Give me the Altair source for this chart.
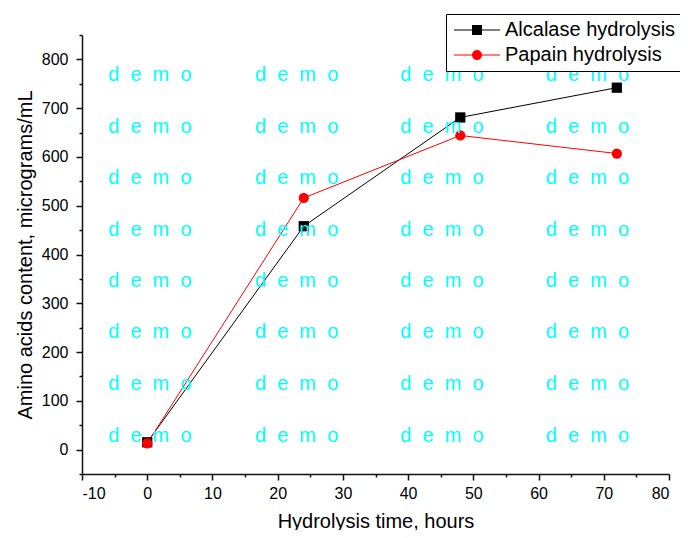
import altair as alt
import pandas as pd

hours = [0, 24, 48, 72]
alcalase = [15, 458, 681, 742]
papain = [13, 516, 644, 607]
series_names = ["Alcalase hydrolysis", "Papain hydrolysis"]
series_colors = ["#000000", "#ff0000"]
plot_shapes = ["square", "circle"]
legend_shapes = [
    "M-1.6,-0.1H2V-1H4V-0.1H7.6V0.1H4V1H2V0.1H-1.6Z",
    "M-1.6,-0.1H2.005A1,1,0,0,1,3.995,-0.1H7.6V0.1H3.995A1,1,0,0,1,2.005,0.1H-1.6Z",
]

x_major = [-10, 0, 10, 20, 30, 40, 50, 60, 70, 80]
x_minor = [-5, 5, 15, 25, 35, 45, 55, 65, 75]
y_major = [0, 100, 200, 300, 400, 500, 600, 700, 800]
y_minor = [-50, 50, 150, 250, 350, 450, 550, 650, 750, 850]

wm_text = "d\u00a0\u00a0e\u00a0\u00a0m\u00a0\u00a0o"
wm_x = [0.4, 22.9, 45.2, 67.5]
wm_y = [768, 661, 557, 450, 346, 241, 135, 28]

rows = []
for name, vals in zip(series_names, [alcalase, papain]):
    for h, v in zip(hours, vals):
        rows.append({"series": name, "grp": name, "hours": h, "value": v})
df = pd.DataFrame(rows)

wm = pd.DataFrame([{"hours": a, "value": b, "t": wm_text} for a in wm_x for b in wm_y])

FONT = "Liberation Sans"
xs = alt.Scale(domain=[-10, 80], nice=False, zero=False)
ys = alt.Scale(domain=[-50, 850], nice=False, zero=False)

x_axis = alt.Axis(values=x_major, tickSize=6, labelPadding=5, title="Hydrolysis time, hours",
                  labelExpr="'' + datum.value",
                  titlePadding=10, grid=False, orient="bottom")
y_axis = alt.Axis(values=y_major, tickSize=6, labelPadding=8, title="Amino acids content, micrograms/mL",
                  labelExpr="'' + datum.value",
                  titlePadding=6, grid=False, orient="left")

color = alt.Color("grp:N", scale=alt.Scale(domain=series_names, range=series_colors), legend=None)

lines = alt.Chart(df).mark_line(strokeWidth=1).encode(
    x=alt.X("hours:Q", scale=xs, axis=x_axis),
    y=alt.Y("value:Q", scale=ys, axis=y_axis),
    color=color,
    detail="grp:N",
)

layers_pts = []
for name, shp in zip(series_names, plot_shapes):
    layers_pts.append(
        alt.Chart(df).transform_filter(alt.datum.grp == name).mark_point(
            filled=True, size=105, opacity=1, shape=shp
        ).encode(
            x=alt.X("hours:Q", scale=xs, axis=None),
            y=alt.Y("value:Q", scale=ys, axis=None),
            color=color,
        )
    )

minor = alt.Chart(df).mark_point(opacity=0).encode(
    x=alt.X("hours:Q", scale=xs, axis=alt.Axis(values=x_minor, tickSize=3, labels=False, domain=False,
                                                 title=None, grid=False, orient="bottom")),
    y=alt.Y("value:Q", scale=ys, axis=alt.Axis(values=y_minor, tickSize=3, labels=False, domain=False,
                                                 title=None, grid=False, orient="left")),
)

legend_layer = alt.Chart(df).transform_filter("false").mark_point(
    filled=True, size=100, opacity=1, strokeWidth=0
).encode(
    x=alt.X("hours:Q", scale=xs, axis=None),
    y=alt.Y("value:Q", scale=ys, axis=None),
    color=alt.Color("series:N", scale=alt.Scale(domain=series_names, range=series_colors),
                    legend=alt.Legend(title=None)),
    shape=alt.Shape("series:N", scale=alt.Scale(domain=series_names, range=legend_shapes),
                    legend=alt.Legend(title=None)),
)

watermark = alt.Chart(wm).mark_text(font=FONT, fontSize=20, color="#00ffff").encode(
    x=alt.X("hours:Q", scale=xs, axis=None),
    y=alt.Y("value:Q", scale=ys, axis=None),
    text="t:N",
)

chart = alt.layer(lines, *layers_pts, legend_layer, minor, watermark).resolve_scale(
    shape="independent", color="independent"
).resolve_axis(
    x="independent", y="independent"
).properties(
    width=587, height=439,
    autosize=alt.AutoSizeParams(type="none"),
    padding={"left": 74, "top": 27, "right": 11, "bottom": 56},
).configure_view(stroke=None).configure_axis(
    labelFont=FONT, titleFont=FONT, labelFontSize=16, titleFontSize=20,
    labelColor="#000000", titleColor="#000000", titleFontWeight="normal",
    domainColor="#111111", tickColor="#111111", domainWidth=1.5, tickWidth=1.5,
).configure_legend(
    orient="none", legendX=364, legendY=-21,
    labelFont=FONT, labelFontSize=20, labelColor="#000000", labelLimit=400,
    symbolSize=100, symbolStrokeWidth=0, labelOffset=33,
    strokeColor="#000000", padding=6, rowPadding=5,
    fillColor="#ffffff",
)

chart.save("out.html", embed_options={"renderer": "svg", "actions": False})
